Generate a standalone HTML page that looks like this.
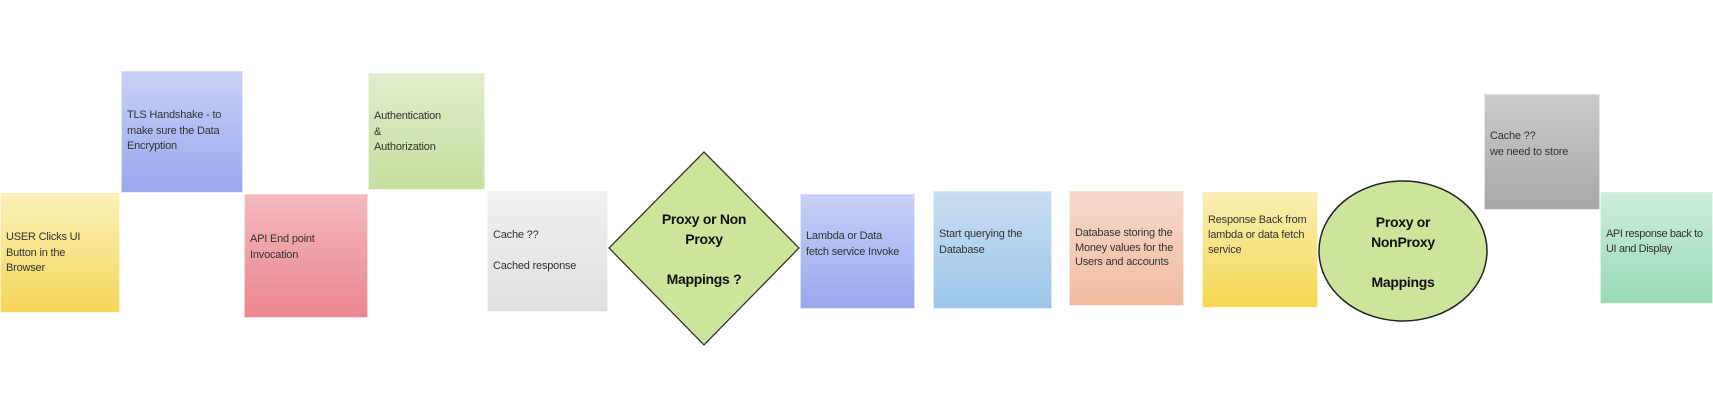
<!DOCTYPE html>
<html><head><meta charset="utf-8"><style>
body{margin:0;width:1713px;height:406px;background:#fff;position:relative;overflow:hidden;font-family:"Liberation Sans",sans-serif;}
.b{position:absolute;box-sizing:border-box;font-size:11px;letter-spacing:-0.2px;color:#333;line-height:15.5px;padding-left:6px;border:1px solid rgba(255,255,255,.6);overflow:hidden}
.t{position:absolute;left:5px;white-space:nowrap}
.k{position:absolute;font-weight:bold;font-size:14px;letter-spacing:-0.3px;color:#111;text-align:center;white-space:nowrap;line-height:20px}
</style></head><body>
<div class="b" style="left:0;top:193px;width:120px;height:120px;background:linear-gradient(#fbf0b8,#f5d65a)"><div class="t" style="top:36px">USER Clicks UI<br>Button in the<br>Browser</div></div>
<div class="b" style="left:121px;top:71px;width:122px;height:122px;background:linear-gradient(#c8d0f6,#98a8ee)"><div class="t" style="top:36px">TLS Handshake - to<br>make sure the Data<br>Encryption</div></div>
<div class="b" style="left:244px;top:194px;width:124px;height:124px;background:linear-gradient(#f3b8bd,#eb868f)"><div class="t" style="top:37px">API End point<br>Invocation</div></div>
<div class="b" style="left:368px;top:73px;width:117px;height:117px;background:linear-gradient(#e1edcd,#c4df9d)"><div class="t" style="top:35px">Authentication<br>&amp;<br>Authorization</div></div>
<div class="b" style="left:487px;top:191px;width:121px;height:121px;background:linear-gradient(#f0f0f0,#e0e0e0)"><div class="t" style="top:36px">Cache ??<br><br>Cached response</div></div>
<svg style="position:absolute;left:0;top:0" width="1713" height="406">
<polygon points="704,152 799,248 704,345 609,248" fill="#cde59b" stroke="#333" stroke-width="1.3"/>
<ellipse cx="1403" cy="251" rx="84" ry="70" fill="#cde59b" stroke="#222" stroke-width="1.5"/>
</svg>
<div class="k" style="left:644px;top:209px;width:120px">Proxy or Non<br>Proxy<br><br>Mappings ?</div>
<div class="b" style="left:800px;top:194px;width:115px;height:115px;background:linear-gradient(#c8d0f6,#98a8ee)"><div class="t" style="top:34px">Lambda or Data<br>fetch service Invoke</div></div>
<div class="b" style="left:933px;top:191px;width:119px;height:118px;background:linear-gradient(#c8def1,#9bc6ea)"><div class="t" style="top:35px">Start querying the<br>Database</div></div>
<div class="b" style="left:1069px;top:191px;width:115px;height:115px;background:linear-gradient(#f5d9cb,#f0bc9f)"><div class="t" style="top:34px;line-height:14.5px">Database storing the<br>Money values for the<br>Users and accounts</div></div>
<div class="b" style="left:1202px;top:192px;width:116px;height:116px;background:linear-gradient(#f9eeb4,#f5d852)"><div class="t" style="top:20px;line-height:15px">Response Back from<br>lambda or data fetch<br>service</div></div>
<div class="k" style="left:1343px;top:212px;width:120px">Proxy or<br>NonProxy<br><br>Mappings</div>
<div class="b" style="left:1484px;top:94px;width:116px;height:116px;background:linear-gradient(#cbcbcb,#a8a8a8)"><div class="t" style="top:34px">Cache ??<br>we need to store</div></div>
<div class="b" style="left:1600px;top:192px;width:113px;height:112px;background:linear-gradient(#cdeddb,#98dab6)"><div class="t" style="top:34px;line-height:14.5px;letter-spacing:-0.4px">API response back to<br>UI and Display</div></div>
</body></html>
